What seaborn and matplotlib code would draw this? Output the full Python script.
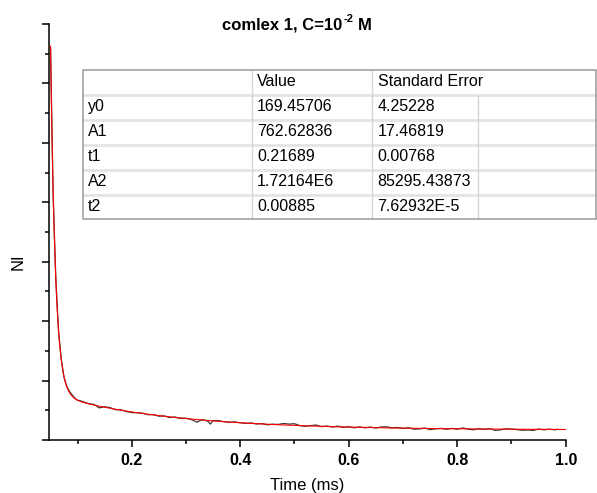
import numpy as np
import pandas as pd
import matplotlib
matplotlib.use("Agg")
import matplotlib.pyplot as plt
import seaborn as sns
from matplotlib.ticker import MultipleLocator, NullFormatter
from matplotlib.patches import Rectangle
from matplotlib.lines import Line2D

# Measured luminescence decay (time in ms, intensity NI)
time_ms = [0.0503, 0.055, 0.06, 0.065, 0.07, 0.075, 0.08, 0.085, 0.09, 0.095,
           0.10, 0.105, 0.11, 0.115, 0.12, 0.13, 0.14, 0.15, 0.16, 0.17,
           0.18, 0.19, 0.20, 0.21, 0.22, 0.23, 0.24, 0.25, 0.26, 0.27,
           0.28, 0.29, 0.30, 0.31, 0.32, 0.33, 0.34, 0.345, 0.35, 0.36,
           0.37, 0.38, 0.39, 0.40, 0.41, 0.42, 0.43, 0.44, 0.45, 0.46,
           0.47, 0.48, 0.49, 0.50, 0.51, 0.52, 0.53, 0.54, 0.55, 0.56,
           0.57, 0.58, 0.59, 0.60, 0.61, 0.62, 0.63, 0.64, 0.65, 0.66,
           0.67, 0.68, 0.69, 0.70, 0.71, 0.72, 0.73, 0.74, 0.75, 0.76,
           0.77, 0.78, 0.79, 0.80, 0.81, 0.82, 0.83, 0.84, 0.85, 0.86,
           0.87, 0.88, 0.89, 0.90, 0.91, 0.92, 0.93, 0.94, 0.95, 0.96,
           0.97, 0.98, 0.985]
ni = [6600, 4150, 2720, 1830, 1370, 1060, 905, 820, 760, 705,
      668, 660, 645, 630, 612, 600, 540, 560, 545, 510,
      508, 478, 462, 458, 452, 425, 428, 400, 405, 378,
      386, 363, 368, 345, 300, 345, 318, 268, 328, 325,
      308, 296, 305, 290, 278, 288, 270, 276, 256, 266,
      262, 278, 268, 274, 242, 230, 242, 252, 224, 236,
      218, 234, 212, 224, 206, 220, 205, 218, 201, 220,
      221, 204, 211, 194, 206, 182, 186, 201, 175, 188,
      196, 180, 196, 181, 204, 183, 171, 192, 178, 192,
      162, 171, 190, 184, 175, 163, 168, 160, 184, 171,
      182, 171, 180]

# Second-order exponential decay fit parameters
param_names = ["y0", "A1", "t1", "A2", "t2"]
param_values = [169.45706, 762.62836, 0.21689, 1.72164e6, 0.00885]
value_labels = ["169.45706", "762.62836", "0.21689", "1.72164E6", "0.00885"]
error_labels = ["4.25228", "17.46819", "0.00768", "85295.43873", "7.62932E-5"]
fit_range = (0.0503, 1.0)

y0, A1, t1, A2, t2 = param_values
t_fit = np.linspace(fit_range[0], fit_range[1], 600)
ni_fit = y0 + A1 * np.exp(-t_fit / t1) + A2 * np.exp(-t_fit / t2)

data = pd.DataFrame({"time": time_ms, "ni": ni})
fit = pd.DataFrame({"time": t_fit, "ni": ni_fit})

sns.set_style("ticks")
plt.rcParams["font.family"] = ["Liberation Sans", "DejaVu Sans"]
plt.rcParams["text.color"] = "black"
plt.rcParams["axes.labelcolor"] = "black"

W, H = 597, 493
fig = plt.figure(figsize=(W / 100, H / 100), dpi=100)
ax_l, ax_r, ax_t, ax_b = 49.3, 565.7, 24, 440
ax = fig.add_axes([ax_l / W, 1 - ax_b / H, (ax_r - ax_l) / W, (ax_b - ax_t) / H])

sns.lineplot(data=data, x="time", y="ni", ax=ax, color="#3a3a3a", lw=0.9,
             estimator=None, sort=False)
sns.lineplot(data=fit, x="time", y="ni", ax=ax, color="#ff0000", lw=0.8,
             estimator=None, sort=False)

ax.set_xlim(0.048, 1.0)
ax.set_ylim(0, 7000)
ax.xaxis.set_major_locator(MultipleLocator(0.2))
ax.xaxis.set_minor_locator(MultipleLocator(0.1))
ax.yaxis.set_major_locator(MultipleLocator(1000))
ax.yaxis.set_minor_locator(MultipleLocator(500))
ax.yaxis.set_major_formatter(NullFormatter())
ax.tick_params(which="major", length=5, width=1.1, direction="out",
               colors="black", labelsize=11.5, pad=4.5)
ax.tick_params(which="minor", length=3, width=1.1, direction="out", colors="black")
for lbl in ax.get_xticklabels():
    lbl.set_fontweight("bold")

sns.despine(ax=ax)
for s in ("left", "bottom"):
    ax.spines[s].set_linewidth(1.1)
    ax.spines[s].set_color("black")

ax.set_xlabel("Time (ms)", fontsize=12, labelpad=7, color="black")
ax.set_ylabel("NI", fontsize=12, color="black")
ax.yaxis.set_label_coords(-24 / (ax_r - ax_l), (ax_b - 262) / (ax_b - ax_t))

# Overlay in pixel coordinates for the title and the parameter table
ov = fig.add_axes([0, 0, 1, 1], zorder=5)
ov.set_xlim(0, W)
ov.set_ylim(H, 0)
ov.axis("off")
ov.patch.set_alpha(0)

renderer = fig.canvas.get_renderer()
t_main = ov.text(221.7, 30, "comlex 1, C=10", fontsize=12, fontweight="bold",
                 ha="left", va="baseline", color="black")
bb = t_main.get_window_extent(renderer)
x_end = bb.x1 + 1.5
t_sup = ov.text(x_end, 22, "-2", fontsize=8, fontweight="bold",
                ha="left", va="baseline", color="black")
bb2 = t_sup.get_window_extent(renderer)
ov.text(bb2.x1 + 4, 30, "M", fontsize=12, fontweight="bold",
        ha="left", va="baseline", color="black")

# Table
tx0, tx1 = 82.7, 595.5
ty0 = 70
row_h = 25
n_rows = len(param_names) + 1
ty1 = ty0 + row_h * n_rows - 0.7
col_x = [tx0, 251.7, 372.0, 477.5, tx1]

ov.add_patch(Rectangle((tx0, ty0), tx1 - tx0, ty1 - ty0, facecolor="white",
                       edgecolor="none", zorder=1))
for i in range(1, n_rows):
    y = ty0 + i * row_h
    ov.add_line(Line2D([tx0, tx1], [y, y], color="#e4e4e4", lw=2.0, zorder=2))
ov.add_line(Line2D([col_x[1], col_x[1]], [ty0, ty1], color="#d6d6d6", lw=1.0, zorder=2))
ov.add_line(Line2D([col_x[2], col_x[2]], [ty0, ty1], color="#d6d6d6", lw=1.0, zorder=2))
ov.add_line(Line2D([col_x[3], col_x[3]], [ty0 + row_h, ty1], color="#d6d6d6", lw=1.0, zorder=2))
ov.add_patch(Rectangle((tx0, ty0), tx1 - tx0, ty1 - ty0, facecolor="none",
                       edgecolor="#9a9a9a", lw=1.1, zorder=3))

fs = 11.5
text_x = [88, 257, 377.5]
hy = ty0 + row_h / 2 - 1
ov.text(text_x[1], hy, "Value", fontsize=fs, va="center", ha="left", zorder=4, color="black")
ov.text(text_x[2], hy, "Standard Error", fontsize=fs, va="center", ha="left", zorder=4, color="black")
for i, (name, val, err) in enumerate(zip(param_names, value_labels, error_labels)):
    cy = ty0 + (i + 1) * row_h + row_h / 2 - 1
    ov.text(text_x[0], cy, name, fontsize=fs, va="center", ha="left", zorder=4, color="black")
    ov.text(text_x[1], cy, val, fontsize=fs, va="center", ha="left", zorder=4, color="black")
    ov.text(text_x[2], cy, err, fontsize=fs, va="center", ha="left", zorder=4, color="black")

fig.savefig("out.png", dpi=100)
